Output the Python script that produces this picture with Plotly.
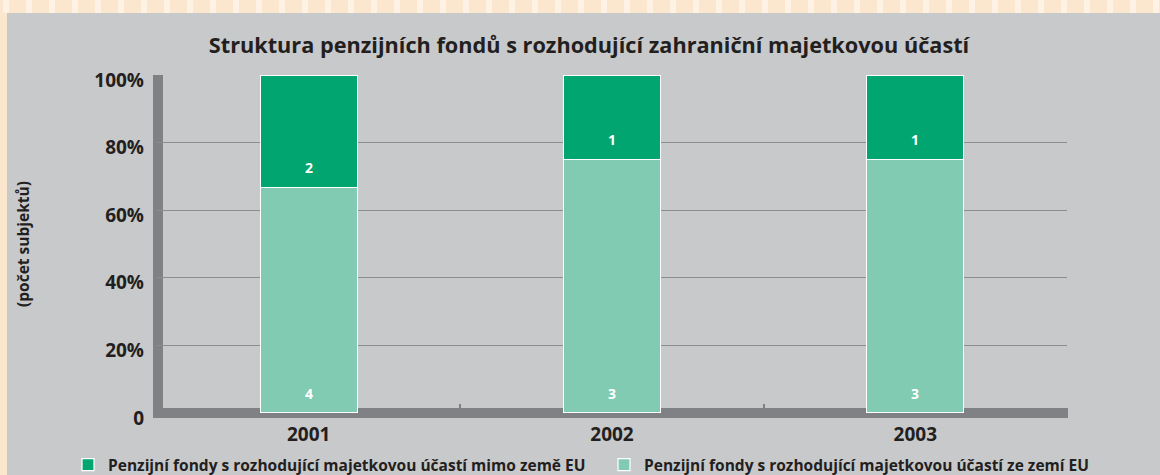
import plotly.graph_objects as go

years = ["2001", "2002", "2003"]
eu_counts = [4, 3, 3]
non_eu_counts = [2, 1, 1]
ytick_vals = [0, 20, 40, 60, 80, 100]
ytick_text = ["0", "20%", "40%", "60%", "80%", "100%"]

name_non_eu = "Penzijní fondy s rozhodující majetkovou účastí mimo země EU"
name_eu = "Penzijní fondy s rozhodující majetkovou účastí ze zemí EU"

DARK = "#00a56f"
LIGHT = "#80cbb1"
PANEL = "#c8c9cb"
PEACH = "#fbe7cd"
PEACH_LT = "#fdf2e3"
AXIS = "#808184"
TXT = "#231f20"
FONT = "Open Sans"

W, H = 1160, 475
ML, MR, MT, MB = 157, 93, 75, 62
pw, ph = W - ML - MR, H - MT - MB

fig = go.Figure()
fig.add_trace(go.Bar(
    x=years, y=eu_counts, name=name_eu, legend="legend2",
    marker=dict(color=LIGHT, line=dict(color="white", width=1.2)),
))
fig.add_trace(go.Bar(
    x=years, y=non_eu_counts, name=name_non_eu, legend="legend",
    marker=dict(color=DARK, line=dict(color="white", width=1.2)),
))

# value labels placed at the base of each segment (percent scale)
annotations = []
for i, (e, n) in enumerate(zip(eu_counts, non_eu_counts)):
    tot = e + n
    for base, val in ((0, e), (e / tot * 100, n)):
        annotations.append(dict(x=i, y=base, xref="x", yref="y", text=f"<b>{val}</b>",
                                showarrow=False, yanchor="middle", yshift=20,
                                font=dict(color="white", size=14, family=FONT)))

def px_x(p):
    return (p - ML) / pw

def px_y(p):
    return (H - MB - p) / ph

shapes = [
    # peach frame strips (top and left)
    dict(type="rect", xref="paper", yref="paper", layer="below",
         x0=px_x(0), x1=px_x(W), y0=px_y(13), y1=px_y(0),
         fillcolor=PEACH, line=dict(width=0)),
    dict(type="rect", xref="paper", yref="paper", layer="below",
         x0=px_x(0), x1=px_x(7), y0=px_y(H), y1=px_y(0),
         fillcolor=PEACH, line=dict(width=0)),
]
# light vertical streaks in the top strip
for sx in range(3, W, 23):
    shapes.append(dict(type="rect", xref="paper", yref="paper", layer="below",
                       x0=px_x(sx), x1=px_x(sx + 6), y0=px_y(13), y1=px_y(0),
                       fillcolor=PEACH_LT, line=dict(width=0)))
shapes += [
    dict(type="line", xref="paper", yref="paper", layer="below",
         x0=px_x(158), x1=px_x(158), y0=px_y(75), y1=px_y(418),
         line=dict(color=AXIS, width=10)),
    dict(type="line", xref="paper", yref="paper", layer="below",
         x0=px_x(153), x1=px_x(1068), y0=0, y1=0,
         line=dict(color=AXIS, width=10)),
]

legend_common = dict(orientation="h", xanchor="left", y=px_y(465), yanchor="middle",
                     font=dict(size=15.5, family=FONT, color=TXT, weight="bold"),
                     bgcolor="rgba(0,0,0,0)")

fig.update_layout(
    width=W, height=H,
    margin=dict(l=ML, r=MR, t=MT, b=MB, autoexpand=False),
    paper_bgcolor=PANEL, plot_bgcolor="rgba(0,0,0,0)",
    barmode="stack", barnorm="percent", bargap=0.68,
    font=dict(family=FONT, color=TXT),
    title=dict(text="<b>Struktura penzijních fondů s rozhodující zahraniční majetkovou účastí</b>",
               x=589 / W, xanchor="center", y=1 - 45 / H, yanchor="middle",
               font=dict(size=21.7, family=FONT, color=TXT)),
    xaxis=dict(type="category", showgrid=False, ticks="inside", tickson="boundaries",
               ticklen=9, tickwidth=2, tickcolor=AXIS, showline=False,
               tickfont=dict(size=19, family=FONT, color=TXT, weight="bold"),
               ticklabelstandoff=8),
    yaxis=dict(range=[0, 100], tickvals=ytick_vals, ticktext=ytick_text, showgrid=True,
               gridcolor="#8c8d8f", gridwidth=1, zeroline=False, showline=False,
               tickfont=dict(size=19, family=FONT, color=TXT, weight="bold"),
               ticklabelstandoff=12, ticklabelshift=5,
               title=dict(text="<b>(počet subjektů)</b>", font=dict(size=15.5, family=FONT, color=TXT),
                          standoff=60)),
    showlegend=True,
    legend=dict(x=px_x(68), **legend_common),
    legend2=dict(x=px_x(604), **legend_common),
    shapes=shapes,
    annotations=annotations,
)

fig.write_html("out.html", config={"displayModeBar": False},
               post_script="document.body.style.margin='0';document.body.style.overflow='hidden';")
